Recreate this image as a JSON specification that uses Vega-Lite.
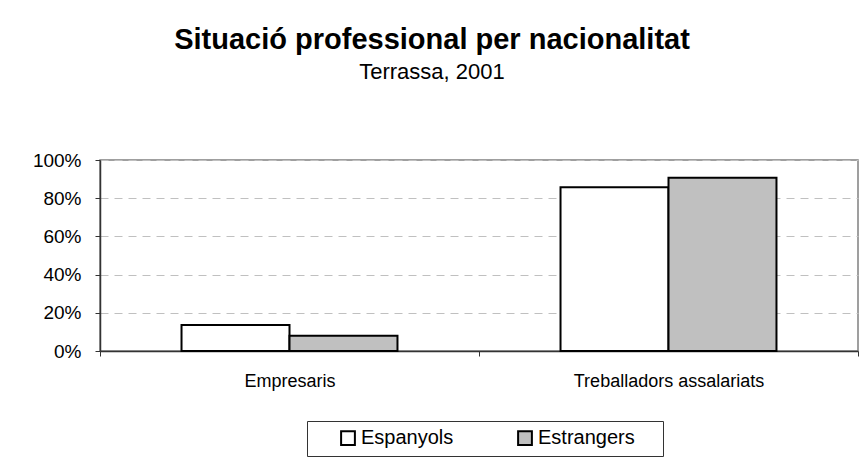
{
  "$schema": "https://vega.github.io/schema/vega-lite/v6.json",
  "width": 758,
  "height": 191,
  "autosize": {"type": "none"},
  "padding": {"left": 100, "top": 160, "right": 7, "bottom": 115},
  "background": "white",
  "title": {
    "text": "Situació professional per nacionalitat",
    "subtitle": "Terrassa, 2001",
    "anchor": "middle",
    "frame": "group",
    "dx": -47,
    "offset": 68,
    "font": "Liberation Sans",
    "fontSize": 29,
    "fontWeight": "bold",
    "color": "black",
    "subtitleFont": "Liberation Sans",
    "subtitleFontSize": 22,
    "subtitleColor": "black",
    "subtitlePadding": 7
  },
  "data": {
    "values": [
      {"categoria": "Empresaris", "nacionalitat": "Espanyols", "valor": 0.136},
      {"categoria": "Empresaris", "nacionalitat": "Estrangers", "valor": 0.08},
      {"categoria": "Treballadors assalariats", "nacionalitat": "Espanyols", "valor": 0.857},
      {"categoria": "Treballadors assalariats", "nacionalitat": "Estrangers", "valor": 0.907}
    ]
  },
  "mark": {"type": "bar", "stroke": "black", "strokeWidth": 2},
  "encoding": {
    "x": {
      "field": "categoria",
      "type": "nominal",
      "sort": null,
      "title": null,
      "scale": {"paddingInner": 0, "paddingOuter": 0},
      "axis": {
        "labelAngle": 0,
        "tickBand": "extent",
        "domainColor": "#333333",
        "tickColor": "#333333",
        "tickSize": 5,
        "labelFont": "Liberation Sans",
        "labelFontSize": 18,
        "labelColor": "black",
        "labelPadding": 16,
        "labelLimit": 400,
        "grid": false
      }
    },
    "xOffset": {
      "field": "nacionalitat",
      "type": "nominal",
      "scale": {"paddingInner": 0, "paddingOuter": 0.755}
    },
    "y": {
      "field": "valor",
      "type": "quantitative",
      "title": null,
      "scale": {"domain": [0, 1], "nice": false},
      "axis": {
        "format": ".0%",
        "values": [0, 0.2, 0.4, 0.6, 0.8, 1],
        "domainColor": "#333333",
        "tickColor": "#333333",
        "tickSize": 5,
        "labelFont": "Liberation Sans",
        "labelFontSize": 19,
        "labelColor": "black",
        "labelPadding": 14,
        "gridColor": "#c0c0c0",
        "gridDash": [8, 6],
        "gridWidth": 1
      }
    },
    "fill": {
      "field": "nacionalitat",
      "type": "nominal",
      "scale": {"domain": ["Espanyols", "Estrangers"], "range": ["#ffffff", "#c0c0c0"]},
      "legend": {
        "title": ".",
        "titleOrient": "right",
        "titleColor": "white",
        "titleFontSize": 10,
        "titlePadding": 18,
        "orient": "none",
        "legendX": 207,
        "legendY": 261,
        "direction": "horizontal",
        "symbolType": "square",
        "symbolSize": 190,
        "symbolStrokeColor": "black",
        "symbolStrokeWidth": 2,
        "symbolOffset": 24,
        "labelFont": "Liberation Sans",
        "labelFontSize": 20,
        "labelColor": "black",
        "labelOffset": 3,
        "labelLimit": 300,
        "columnPadding": 37,
        "padding": 7,
        "strokeColor": "#333333"
      }
    }
  },
  "config": {
    "view": {"stroke": "#808080", "strokeWidth": 1.5},
    "axis": {"domainWidth": 1.5}
  }
}
